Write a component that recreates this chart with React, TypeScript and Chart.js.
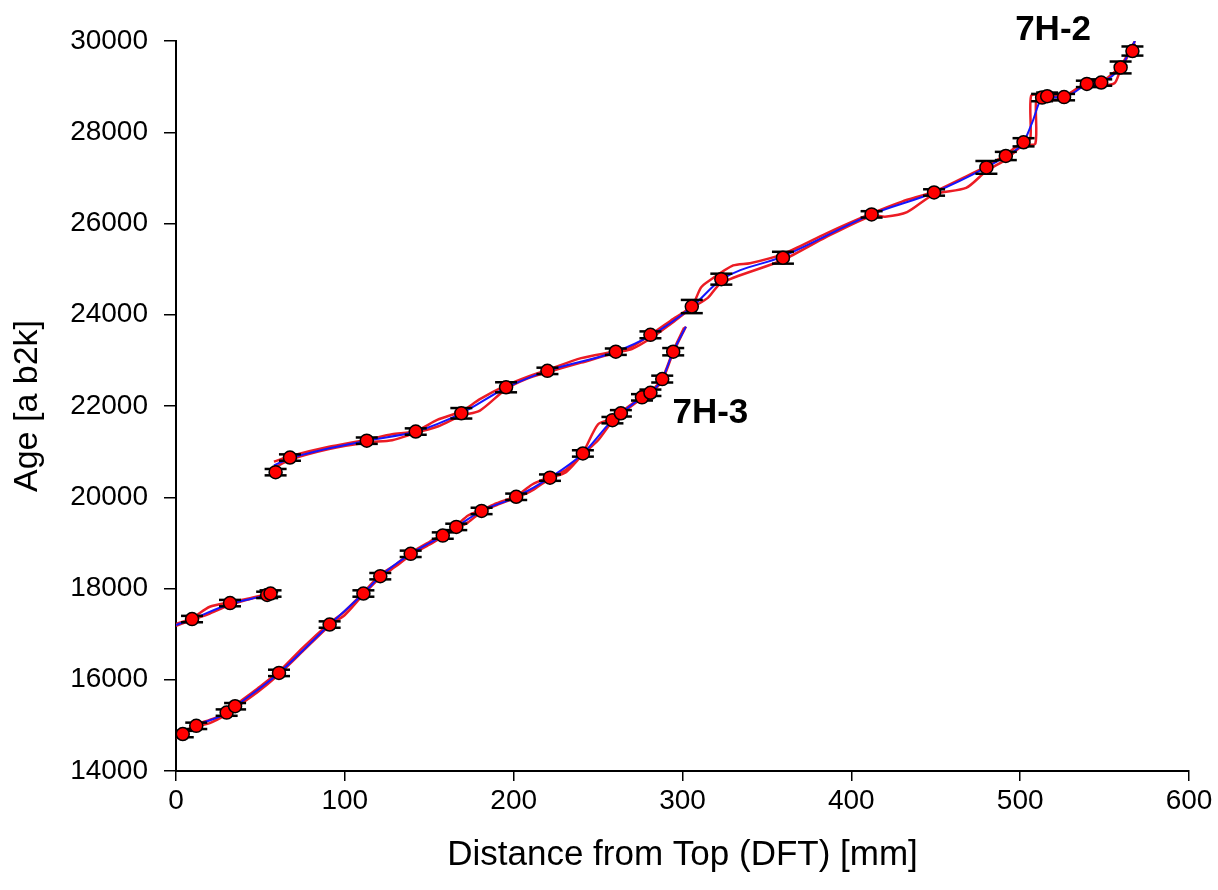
import React, { useEffect, useRef } from "react";
import { Chart, registerables } from "chart.js";

Chart.register(...registerables);

// ---------- Data ----------
// Short upper-left segment (0–57 mm)
const SEG_A_X = [9.5, 32, 54, 56];
const SEG_A_AGE = [17330, 17680, 17860, 17890];
const SEG_A_ERR = [70, 70, 70, 70];
const SEG_A_BLUE_X = [0, 9.5, 32, 54, 57];
const SEG_A_BLUE_AGE = [17200, 17330, 17660, 17860, 17900];
const SEG_A_UP_X = [0, 9.5, 20, 32, 45, 54, 57];
const SEG_A_UP_AGE = [17220, 17350, 17600, 17700, 17800, 17880, 17920];
const SEG_A_LO_X = [0, 9.5, 20, 32, 45, 54, 57];
const SEG_A_LO_AGE = [17180, 17310, 17450, 17640, 17780, 17850, 17880];

// 7H-3
const H3_X = [4, 12, 30, 35, 61, 91, 111, 121, 139, 158, 166, 181, 201.5, 221.5, 241, 258.5, 263.5, 276, 281, 288, 294.5];
const H3_AGE = [14810, 14990, 15280, 15420, 16150, 17210, 17890, 18270, 18760, 19160, 19350, 19700, 20010, 20430, 20960, 21690, 21840, 22190, 22290, 22590, 23190];
const H3_ERR = [70, 70, 70, 70, 70, 70, 70, 70, 70, 70, 70, 70, 70, 70, 70, 70, 70, 70, 70, 75, 80];
const H3_BLUE_X = [0, 4, 12, 30, 35, 61, 91, 111, 121, 139, 158, 166, 181, 201.5, 221.5, 241, 258.5, 263.5, 276, 281, 288, 294.5, 302];
const H3_BLUE_AGE = [14740, 14810, 14990, 15270, 15410, 16150, 17210, 17890, 18270, 18760, 19160, 19350, 19700, 20010, 20430, 20960, 21690, 21840, 22190, 22290, 22590, 23190, 23740];
const H3_UP_X = [0, 4, 12, 20, 30, 35, 48, 61, 75, 91, 100, 111, 121, 130, 139, 150, 158, 166, 173, 181, 190, 201.5, 211, 221.5, 231, 241, 250, 258.5, 263.5, 276, 281, 288, 294.5, 301];
const H3_UP_AGE = [14780, 14830, 15020, 15120, 15270, 15440, 15800, 16180, 16700, 17240, 17500, 17910, 18300, 18520, 18780, 19020, 19180, 19380, 19600, 19720, 19870, 20030, 20280, 20450, 20600, 20980, 21600, 21720, 21860, 22210, 22310, 22610, 23210, 23720];
const H3_LO_X = [0, 4, 12, 20, 30, 35, 48, 61, 75, 91, 100, 111, 121, 130, 139, 150, 158, 166, 173, 181, 190, 201.5, 211, 221.5, 231, 241, 250, 258.5, 263.5, 276, 281, 288, 294.5, 302];
const H3_LO_AGE = [14720, 14790, 14970, 15050, 15240, 15380, 15720, 16120, 16620, 17190, 17420, 17870, 18240, 18480, 18730, 18960, 19140, 19320, 19450, 19680, 19830, 19990, 20150, 20410, 20550, 20940, 21250, 21670, 21820, 22170, 22270, 22560, 23170, 23740];

// 7H-2
const H2_X = [59, 67.5, 113, 142, 169, 195.5, 220, 260.5, 281, 305.5, 323, 359.5, 412, 449, 480, 491.5, 502, 513, 516, 526, 539.5, 548, 559.5, 566.5];
const H2_AGE = [20550, 20870, 21240, 21440, 21840, 22410, 22770, 23190, 23560, 24180, 24780, 25250, 26200, 26680, 27230, 27480, 27780, 28760, 28790, 28770, 29060, 29090, 29420, 29780];
const H2_ERR = [70, 70, 70, 70, 115, 110, 70, 70, 75, 145, 120, 130, 70, 70, 140, 90, 90, 80, 80, 70, 70, 70, 130, 100];
const H2_BLUE_X = [58, 67.5, 113, 142, 169, 195.5, 220, 260.5, 281, 305.5, 323, 359.5, 412, 449, 480, 491.5, 502, 507, 513, 526, 539.5, 548, 559.5, 568];
const H2_BLUE_AGE = [20700, 20850, 21240, 21440, 21840, 22400, 22770, 23190, 23540, 24170, 24770, 25280, 26200, 26680, 27230, 27480, 27780, 28200, 28740, 28770, 29040, 29090, 29420, 30000];
const H2_UP_X = [58, 67.5, 90, 113, 128, 142, 155, 169, 180, 195.5, 208, 220, 240, 260.5, 270, 281, 293, 305.5, 311, 316, 330, 340, 359.5, 385, 412, 430, 449, 465, 480, 491.5, 502, 506, 506.5, 513, 526, 539.5, 548, 552, 559.5, 565, 568];
const H2_UP_AGE = [20780, 20900, 21100, 21260, 21380, 21450, 21700, 21880, 22150, 22450, 22640, 22790, 23050, 23200, 23300, 23560, 23870, 24190, 24600, 24750, 25080, 25130, 25330, 25780, 26220, 26480, 26700, 26980, 27250, 27510, 27800, 27850, 28800, 28820, 28800, 29080, 29120, 29200, 29450, 29800, 30000];
const H2_LO_X = [58, 67.5, 90, 113, 128, 142, 155, 169, 180, 195.5, 208, 220, 240, 260.5, 270, 281, 293, 305.5, 315, 323, 359.5, 385, 412, 420, 433, 449, 468, 480, 491.5, 502, 509, 509.5, 513, 526, 535, 548, 556, 559.5, 568];
const H2_LO_AGE = [20640, 20820, 21050, 21200, 21250, 21410, 21550, 21790, 21900, 22370, 22600, 22740, 22950, 23170, 23250, 23480, 23800, 24150, 24370, 24700, 25200, 25700, 26170, 26150, 26250, 26640, 26780, 27150, 27400, 27720, 27750, 28700, 28700, 28730, 28990, 29020, 29080, 29380, 29950];

// Annotations
const LABEL_TEXT = ["7H-2", "7H-3"];
const LABEL_X = [519.5, 316.5];
const LABEL_AGE = [30240, 21850];

// Axis ticks
const X_MIN = 0, X_MAX = 600, X_STEP = 100;
const Y_MIN = 14000, Y_MAX = 30000, Y_STEP = 2000;

// ---------- helpers ----------
const zip = (xs: number[], ys: number[]) => xs.map((x, i) => ({ x, y: ys[i] }));
const shift = (xs: number[], ys: number[], es: number[], s: number) =>
  xs.map((x, i) => ({ x, y: ys[i] + s * es[i] }));

const RED = "#ec1c24";
const BLUE = "#1515ff";

function lineDs(data: any[], color: string, width: number, order: number, mono: boolean) {
  return {
    type: "scatter" as const,
    data,
    showLine: true,
    borderColor: color,
    borderWidth: width,
    pointRadius: 0,
    pointHoverRadius: 0,
    fill: false,
    tension: mono ? 0 : 0.25,
    cubicInterpolationMode: mono ? ("monotone" as const) : ("default" as const),
    order,
  };
}

function capDs(data: any[], order: number) {
  return {
    type: "scatter" as const,
    data,
    showLine: false,
    pointStyle: "line" as const,
    pointRadius: 11,
    pointBorderWidth: 2.5,
    borderColor: "#000",
    backgroundColor: "#000",
    pointHoverRadius: 11,
    order,
  };
}

function ptDs(data: any[], order: number) {
  return {
    type: "scatter" as const,
    data,
    showLine: false,
    pointStyle: "circle" as const,
    pointRadius: 6.5,
    pointBorderWidth: 1.5,
    borderColor: "#000",
    backgroundColor: "#ff0000",
    order,
  };
}

const stemPlugin = {
  id: "stems",
  beforeDatasetsDraw(chart: any) {
    const { ctx, scales } = chart;
    const groups = [
      [SEG_A_X, SEG_A_AGE, SEG_A_ERR],
      [H3_X, H3_AGE, H3_ERR],
      [H2_X, H2_AGE, H2_ERR],
    ];
    ctx.save();
    ctx.strokeStyle = "#000";
    ctx.lineWidth = 1.5;
    groups.forEach(([xs, ys, es]) => {
      xs.forEach((x: number, i: number) => {
        const px = scales.x.getPixelForValue(x);
        ctx.beginPath();
        ctx.moveTo(px, scales.y.getPixelForValue(ys[i] - es[i]));
        ctx.lineTo(px, scales.y.getPixelForValue(ys[i] + es[i]));
        ctx.stroke();
      });
    });
    ctx.restore();
  },
};

const labelPlugin = {
  id: "labels",
  afterDatasetsDraw(chart: any) {
    const { ctx, scales } = chart;
    ctx.save();
    ctx.font = "bold 35px 'Liberation Sans', Arial, sans-serif";
    ctx.fillStyle = "#000";
    ctx.textAlign = "center";
    ctx.textBaseline = "middle";
    LABEL_TEXT.forEach((t, i) => {
      ctx.fillText(t, scales.x.getPixelForValue(LABEL_X[i]), scales.y.getPixelForValue(LABEL_AGE[i]));
    });
    ctx.restore();
  },
};

export default function App() {
  const ref = useRef<HTMLCanvasElement>(null);
  useEffect(() => {
    document.body.style.margin = "0";
    const FONT = "'Liberation Sans', Arial, sans-serif";
    const chart = new Chart(ref.current!, {
      type: "scatter",
      data: {
        datasets: [
          // red bounds
          lineDs(zip(SEG_A_UP_X, SEG_A_UP_AGE), RED, 2.5, 4, false),
          lineDs(zip(SEG_A_LO_X, SEG_A_LO_AGE), RED, 2.5, 4, false),
          lineDs(zip(H3_UP_X, H3_UP_AGE), RED, 2.5, 4, false),
          lineDs(zip(H3_LO_X, H3_LO_AGE), RED, 2.5, 4, false),
          lineDs(zip(H2_UP_X, H2_UP_AGE), RED, 2.5, 4, false),
          lineDs(zip(H2_LO_X, H2_LO_AGE), RED, 2.5, 4, false),
          // blue
          lineDs(zip(SEG_A_BLUE_X, SEG_A_BLUE_AGE), BLUE, 2, 3, true),
          lineDs(zip(H3_BLUE_X, H3_BLUE_AGE), BLUE, 2, 3, true),
          lineDs(zip(H2_BLUE_X, H2_BLUE_AGE), BLUE, 2, 3, true),
          // caps
          capDs(shift(SEG_A_X, SEG_A_AGE, SEG_A_ERR, 1), 2),
          capDs(shift(SEG_A_X, SEG_A_AGE, SEG_A_ERR, -1), 2),
          capDs(shift(H3_X, H3_AGE, H3_ERR, 1), 2),
          capDs(shift(H3_X, H3_AGE, H3_ERR, -1), 2),
          capDs(shift(H2_X, H2_AGE, H2_ERR, 1), 2),
          capDs(shift(H2_X, H2_AGE, H2_ERR, -1), 2),
          // points
          ptDs(zip(SEG_A_X, SEG_A_AGE), 1),
          ptDs(zip(H3_X, H3_AGE), 1),
          ptDs(zip(H2_X, H2_AGE), 1),
        ] as any,
      },
      options: {
        animation: false,
        responsive: false,
        devicePixelRatio: 1,
        events: [],
        layout: { padding: { top: 41, right: 29, left: 0, bottom: 0 } },
        plugins: { legend: { display: false }, tooltip: { enabled: false } },
        scales: {
          x: {
            type: "linear",
            min: X_MIN,
            max: X_MAX,
            ticks: { stepSize: X_STEP, color: "#000", font: { family: FONT, size: 28 }, padding: 3, callback: (v: any) => String(v) },
            grid: { drawOnChartArea: false, drawTicks: true, tickLength: 10, color: "#000", lineWidth: 1.5 },
            border: { display: true, color: "#000", width: 2 },
            title: { display: true, text: "Distance from Top (DFT) [mm]", color: "#000", font: { family: FONT, size: 35 }, padding: { top: 0, bottom: 14 } },
            afterFit: (s: any) => { s.height = 119; s.paddingLeft = 0; s.paddingRight = 0; },
          },
          y: {
            type: "linear",
            min: Y_MIN,
            max: Y_MAX,
            ticks: { stepSize: Y_STEP, color: "#000", font: { family: FONT, size: 28 }, padding: 16, callback: (v: any) => String(v) },
            grid: { drawOnChartArea: false, drawTicks: true, tickLength: 12, color: "#000", lineWidth: 1.5 },
            border: { display: true, color: "#000", width: 2 },
            title: { display: true, text: "Age [a b2k]", color: "#000", font: { family: FONT, size: 34 }, padding: { top: 7, bottom: 0 } },
            afterFit: (s: any) => { s.width = 176; s.paddingTop = 0; s.paddingBottom = 0; },
          },
        },
      } as any,
      plugins: [stemPlugin, labelPlugin],
    });
    return () => chart.destroy();
  }, []);
  return (
    <div style={{ position: "absolute", left: 0, top: 0 }}>
      <canvas ref={ref} width={1218} height={890} style={{ width: 1218, height: 890, display: "block" }} />
    </div>
  );
}
